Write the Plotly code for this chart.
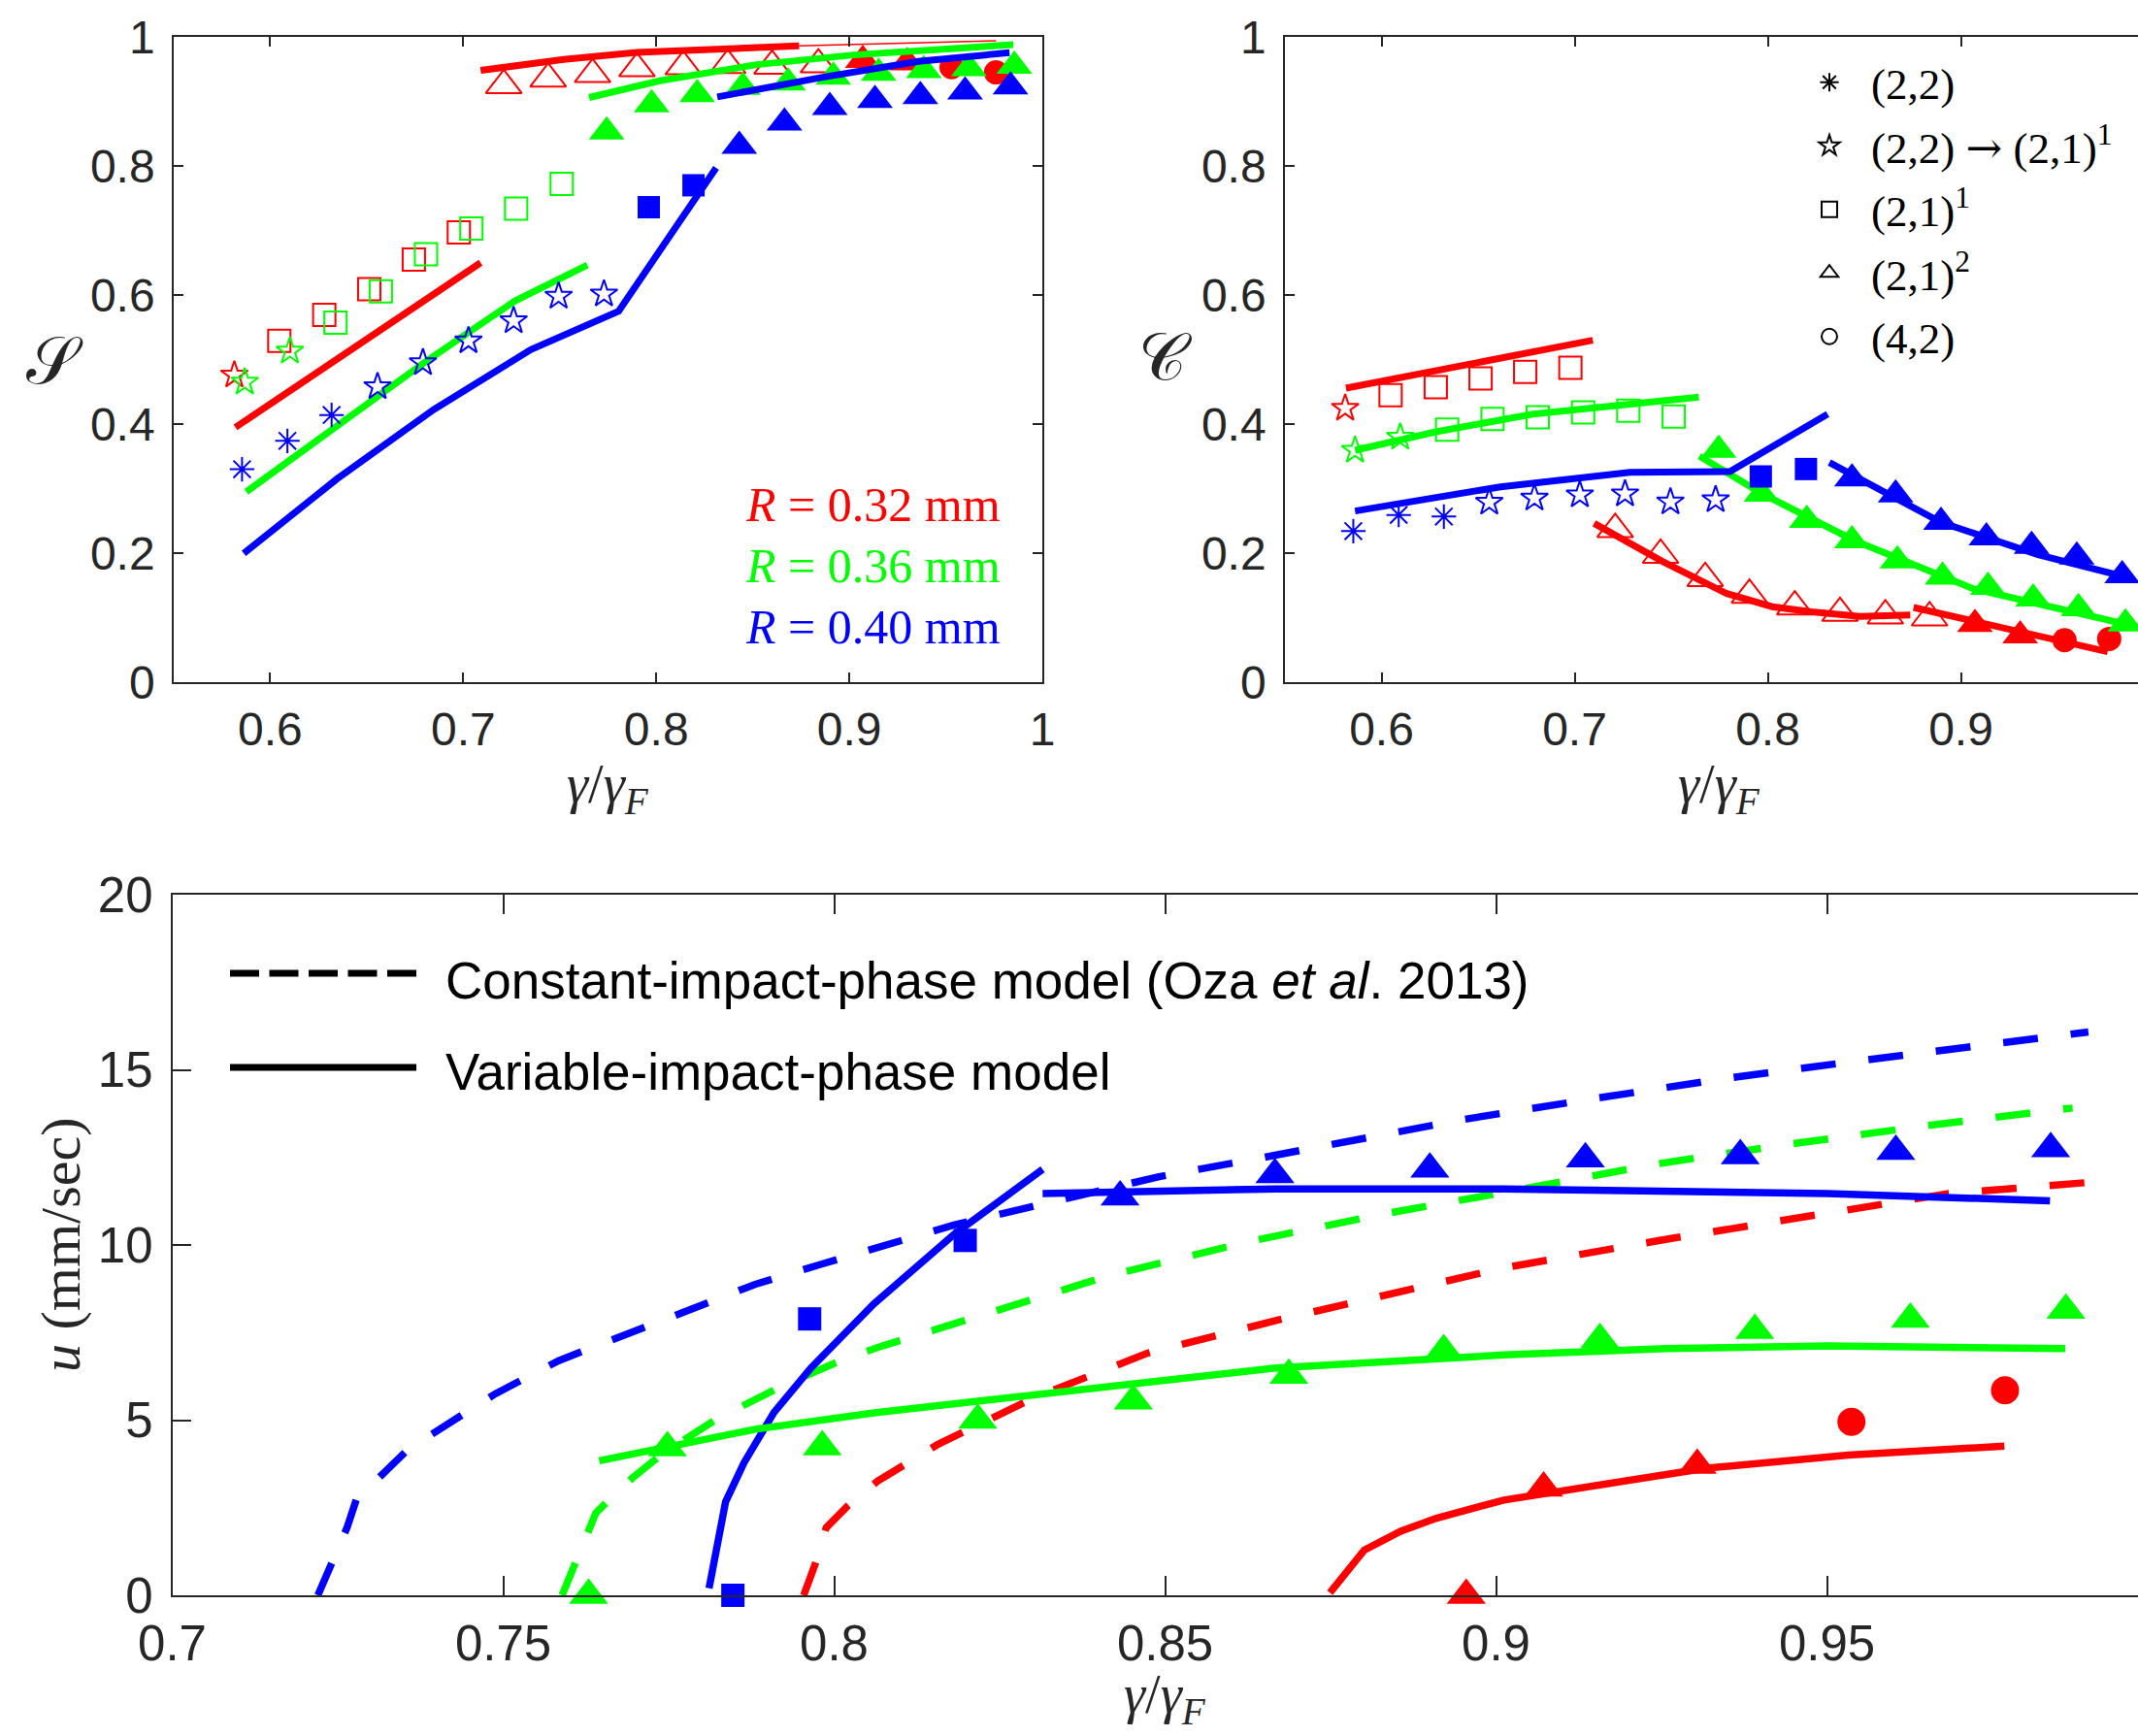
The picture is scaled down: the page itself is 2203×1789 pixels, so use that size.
import plotly.graph_objects as go

W, H = 2203, 1789
RED, GREEN, BLUE = '#ff0000', '#00ff00', '#0000ff'
AXC = '#262626'

# ================= Panel (a): S vs gamma/gamma_F =================
a_red_star_x = [0.5814]
a_red_star_y = [0.476]
a_red_sq_x = [0.6047, 0.6280, 0.6513, 0.6744, 0.6977]
a_red_sq_y = [0.529, 0.569, 0.609, 0.655, 0.697]
a_red_trio_x = [0.721, 0.744, 0.767, 0.790, 0.814, 0.837, 0.860, 0.884]
a_red_trio_y = [0.925, 0.935, 0.942, 0.951, 0.954, 0.956, 0.955, 0.957]
a_red_tri_x = [0.907, 0.930]
a_red_tri_y = [0.964, 0.960]
a_red_circ_x = [0.953, 0.976]
a_red_circ_y = [0.953, 0.945]
a_red_l1_x = [0.582, 0.645, 0.709]
a_red_l1_y = [0.395, 0.522, 0.650]
a_red_l2_x = [0.709, 0.752, 0.790, 0.811, 0.874]
a_red_l2_y = [0.948, 0.965, 0.976, 0.979, 0.986]
a_red_l3_x = [0.874, 0.976]
a_red_l3_y = [0.986, 0.994]

a_grn_star_x = [0.5868, 0.6102]
a_grn_star_y = [0.465, 0.513]
a_grn_sq_x = [0.6338, 0.6573, 0.6807, 0.7042, 0.7274, 0.7510]
a_grn_sq_y = [0.557, 0.6055, 0.663, 0.703, 0.734, 0.772]
a_grn_tri_x = [0.7743, 0.7976, 0.8212, 0.8448, 0.8683, 0.8917, 0.9152, 0.9386, 0.9620, 0.9855]
a_grn_tri_y = [0.853, 0.895, 0.911, 0.922, 0.929, 0.938, 0.944, 0.948, 0.951, 0.955]
a_grn_l1_x = [0.5876, 0.6345, 0.6797, 0.7266, 0.7643]
a_grn_l1_y = [0.295, 0.3975, 0.495, 0.5905, 0.6466]
a_grn_l2_x = [0.7652, 0.8018, 0.852, 0.9023, 0.985]
a_grn_l2_y = [0.906, 0.932, 0.957, 0.972, 0.988]

a_blu_ast_x = [0.5854, 0.6089, 0.6318]
a_blu_ast_y = [0.330, 0.374, 0.414]
a_blu_star_x = [0.6556, 0.6791, 0.7027, 0.7261, 0.7494, 0.7729]
a_blu_star_y = [0.458, 0.495, 0.529, 0.560, 0.598, 0.6015]
a_blu_sq_x = [0.7961, 0.8193]
a_blu_sq_y = [0.736, 0.770]
a_blu_tri_x = [0.843, 0.8664, 0.8899, 0.9133, 0.9368, 0.9600, 0.9835]
a_blu_tri_y = [0.831, 0.867, 0.891, 0.902, 0.908, 0.915, 0.923]
a_blu_l1_x = [0.5863, 0.6345, 0.6848, 0.735, 0.7805, 0.831]
a_blu_l1_y = [0.1995, 0.3148, 0.4226, 0.5153, 0.5750, 0.797]
a_blu_l2_x = [0.8316, 0.8855, 0.9358, 0.983]
a_blu_l2_y = [0.907, 0.937, 0.962, 0.9755]

# ================= Panel (b): C vs gamma/gamma_F =================
b_red_star_x = [0.5812]
b_red_star_y = [0.4245]
b_red_sq_x = [0.6047, 0.6281, 0.6513, 0.6744, 0.6978]
b_red_sq_y = [0.4446, 0.4571, 0.4707, 0.4807, 0.4872]
b_red_trio_x = [0.721, 0.7445, 0.7676, 0.7905, 0.814, 0.8374, 0.8609, 0.8838]
b_red_trio_y = [0.237, 0.197, 0.161, 0.135, 0.117, 0.107, 0.103, 0.100]
b_red_tri_x = [0.9073, 0.9307]
b_red_tri_y = [0.090, 0.072]
b_red_circ_x = [0.9537, 0.9768]
b_red_circ_y = [0.065, 0.067]
b_red_l1_x = [0.5816, 0.7094]
b_red_l1_y = [0.4556, 0.5298]
b_red_l2_x = [0.7101, 0.7453, 0.7788, 0.8023, 0.8227, 0.8478, 0.8738]
b_red_l2_y = [0.2461, 0.1875, 0.1373, 0.117, 0.109, 0.102, 0.104]
b_red_l3_x = [0.8755, 0.9265, 0.976]
b_red_l3_y = [0.1158, 0.0797, 0.0471]

b_grn_star_x = [0.5863, 0.6097]
b_grn_star_y = [0.3594, 0.3795]
b_grn_sq_x = [0.634, 0.6575, 0.6809, 0.7044, 0.7278, 0.7513]
b_grn_sq_y = [0.3914, 0.408, 0.4105, 0.418, 0.4205, 0.4115]
b_grn_tri_x = [0.7746, 0.7967, 0.8202, 0.8436, 0.8671, 0.8905, 0.914, 0.9374, 0.9609, 0.9852]
b_grn_tri_y = [0.3597, 0.2917, 0.251, 0.2194, 0.1883, 0.1633, 0.1472, 0.1292, 0.1141, 0.0906]
b_grn_l1_x = [0.5863, 0.6281, 0.6784, 0.7643]
b_grn_l1_y = [0.3594, 0.388, 0.4155, 0.4416]
b_grn_l2_x = [0.7646, 0.7967, 0.8445, 0.9064, 0.9567, 0.9917]
b_grn_l2_y = [0.3504, 0.2927, 0.22, 0.1449, 0.1098, 0.0857]

b_blu_ast_x = [0.5854, 0.6089, 0.6323]
b_blu_ast_y = [0.2341, 0.2592, 0.2567]
b_blu_star_x = [0.6558, 0.6792, 0.7027, 0.7261, 0.7496, 0.773]
b_blu_star_y = [0.2787, 0.2851, 0.2902, 0.2917, 0.2792, 0.2827]
b_blu_sq_x = [0.7964, 0.8198]
b_blu_sq_y = [0.3188, 0.3303]
b_blu_tri_x = [0.8436, 0.8662, 0.8897, 0.9132, 0.9366, 0.960, 0.9835]
b_blu_tri_y = [0.3153, 0.2905, 0.2481, 0.2241, 0.2108, 0.1943, 0.1654]
b_blu_l1_x = [0.5863, 0.6616, 0.7286, 0.7789, 0.7806, 0.831]
b_blu_l1_y = [0.2652, 0.3027, 0.3253, 0.3263, 0.3265, 0.4155]
b_blu_l2_x = [0.8319, 0.8662, 0.8897, 0.94, 0.9893]
b_blu_l2_y = [0.3403, 0.287, 0.2476, 0.1975, 0.16]

# ================= Panel (c): u vs gamma/gamma_F =================
c_blu_dash_x = [0.7220, 0.7264, 0.7278, 0.7323, 0.7356, 0.7404, 0.7488, 0.7584, 0.7685, 0.7780,
                0.7881, 0.7982, 0.8081, 0.8181, 0.8284, 0.8333, 0.8491, 0.8643, 0.8746, 0.8850,
                0.8953, 0.9135, 0.9348, 0.9562, 0.9764, 0.9895]
c_blu_dash_y = [0.0, 1.93, 2.73, 3.52, 4.16, 4.74, 5.75, 6.70, 7.44, 8.19,
                8.88, 9.46, 9.99, 10.57, 11.03, 11.25, 11.95, 12.48, 12.85, 13.22,
                13.59, 14.14, 14.76, 15.29, 15.76, 16.08]
c_grn_dash_x = [0.7589, 0.7629, 0.7640, 0.7657, 0.7696, 0.7741, 0.7825, 0.7920, 0.8016, 0.8065,
                0.8217, 0.8418, 0.8625, 0.8831, 0.9012, 0.9245, 0.9452, 0.9660, 0.9871]
c_grn_dash_y = [0.0, 1.88, 2.35, 2.67, 3.36, 4.05, 5.06, 5.96, 6.75, 7.07,
                7.97, 9.14, 10.09, 10.89, 11.50, 12.32, 12.90, 13.43, 13.91]
c_red_dash_x = [0.7954, 0.7971, 0.7988, 0.8021, 0.8065, 0.8157, 0.8302, 0.8473, 0.8673, 0.8880,
                0.9012, 0.9269, 0.9477, 0.9684, 0.9898]
c_red_dash_y = [0.0, 0.87, 1.93, 2.56, 3.25, 4.31, 5.64, 6.91, 7.87, 8.77,
                9.35, 10.20, 10.84, 11.47, 11.79]
c_blu_sol1_x = [0.7811, 0.7836, 0.7864, 0.7909, 0.7965, 0.8060, 0.8181, 0.8315]
c_blu_sol1_y = [0.2, 2.67, 3.79, 5.22, 6.49, 8.32, 10.30, 12.16]
c_blu_sol2_x = [0.8315, 0.8436, 0.8667, 0.9012, 0.9257, 0.9501, 0.9837]
c_blu_sol2_y = [11.47, 11.52, 11.60, 11.60, 11.56, 11.47, 11.26]
c_grn_sol_x = [0.7645, 0.7741, 0.7881, 0.8060, 0.8363, 0.8667, 0.9012, 0.9257, 0.9501, 0.9860]
c_grn_sol_y = [3.84, 4.21, 4.74, 5.21, 5.85, 6.49, 6.86, 7.04, 7.12, 7.04]
c_red_sol_x = [0.8749, 0.8801, 0.8856, 0.8910, 0.9012, 0.9135, 0.9318, 0.9532, 0.9768]
c_red_sol_y = [0.07, 1.29, 1.83, 2.20, 2.72, 3.07, 3.63, 4.00, 4.26]

c_blu_sq_x = [0.7847, 0.7963, 0.8198]
c_blu_sq_y = [0.0, 7.89, 10.13]
c_blu_tri_x = [0.8432, 0.8666, 0.8900, 0.9135, 0.9369, 0.9604, 0.9838]
c_blu_tri_y = [11.37, 12.01, 12.17, 12.46, 12.55, 12.67, 12.75]
c_grn_tri_x = [0.7629, 0.7748, 0.7982, 0.8217, 0.8452, 0.8687, 0.8921, 0.9157, 0.9391, 0.9626, 0.9861]
c_grn_tri_y = [0.0, 4.21, 4.24, 5.00, 5.55, 6.28, 6.98, 7.30, 7.56, 7.88, 8.14]
c_red_tri_x = [0.8955, 0.9072, 0.9304]
c_red_tri_y = [0.0, 3.06, 3.71]
c_red_circ_x = [0.9537, 0.9769]
c_red_circ_y = [4.95, 5.85]

# Text
radius_labels = ['<i>R</i> = 0.32 mm', '<i>R</i> = 0.36 mm', '<i>R</i> = 0.40 mm']
ARROW = '<span style="font-family:DejaVu Serif">→</span>'
mode_labels = ['(2,2)', '(2,2) ' + ARROW + ' (2,1)<sup>1</sup>', '(2,1)<sup>1</sup>',
               '(2,1)<sup>2</sup>', '(4,2)']
model_labels = ['Constant-impact-phase model (Oza <i>et al</i>. 2013)', 'Variable-impact-phase model']

fig = go.Figure()


def line(x, y, color, xa, ya, width=6, dash=None):
    fig.add_trace(go.Scatter(x=x, y=y, mode='lines', xaxis=xa, yaxis=ya,
                             line=dict(color=color, width=width, dash=dash),
                             showlegend=False, hoverinfo='skip'))


def pts(x, y, sym, color, size, xa, ya, open_=False, lw=2):
    if open_:
        mk = dict(symbol=sym, size=size, color=color, line=dict(color=color, width=lw))
    else:
        mk = dict(symbol=sym, size=size, color=color, line=dict(width=0))
    fig.add_trace(go.Scatter(x=x, y=y, mode='markers', xaxis=xa, yaxis=ya, marker=mk,
                             showlegend=False, cliponaxis=False, hoverinfo='skip'))


TRI, TRI_C = 32, 35
SQ, SQ_C = 23, 24
CIR, CIR_C = 25, 29
STAR, AST = 21, 21
LW_TOP = 7

# ---- panel a ----
xa, ya = 'x', 'y'
line(a_red_l1_x, a_red_l1_y, RED, xa, ya, LW_TOP)
line(a_red_l2_x, a_red_l2_y, RED, xa, ya, LW_TOP)
line(a_red_l3_x, a_red_l3_y, RED, xa, ya, 1.5)
pts(a_red_star_x, a_red_star_y, 'star-open', RED, STAR, xa, ya, True)
pts(a_red_sq_x, a_red_sq_y, 'square-open', RED, SQ, xa, ya, True)
pts(a_red_trio_x, a_red_trio_y, 'triangle-up-open', RED, TRI, xa, ya, True)
pts(a_red_tri_x, a_red_tri_y, 'triangle-up', RED, TRI, xa, ya)
pts(a_red_circ_x, a_red_circ_y, 'circle', RED, CIR, xa, ya)
line(a_grn_l1_x, a_grn_l1_y, GREEN, xa, ya, LW_TOP)
line(a_grn_l2_x, a_grn_l2_y, GREEN, xa, ya, LW_TOP)
pts(a_grn_star_x, a_grn_star_y, 'star-open', GREEN, STAR, xa, ya, True)
pts(a_grn_sq_x, a_grn_sq_y, 'square-open', GREEN, SQ, xa, ya, True)
pts(a_grn_tri_x, a_grn_tri_y, 'triangle-up', GREEN, TRI, xa, ya)
line(a_blu_l1_x, a_blu_l1_y, BLUE, xa, ya, LW_TOP)
line(a_blu_l2_x, a_blu_l2_y, BLUE, xa, ya, LW_TOP)
pts(a_blu_ast_x, a_blu_ast_y, 'asterisk-open', BLUE, AST, xa, ya, True)
pts(a_blu_star_x, a_blu_star_y, 'star-open', BLUE, STAR, xa, ya, True)
pts(a_blu_sq_x, a_blu_sq_y, 'square', BLUE, SQ, xa, ya)
pts(a_blu_tri_x, a_blu_tri_y, 'triangle-up', BLUE, TRI, xa, ya)

# ---- panel b ----
xa, ya = 'x2', 'y2'
line(b_red_l1_x, b_red_l1_y, RED, xa, ya, LW_TOP)
line(b_red_l2_x, b_red_l2_y, RED, xa, ya, LW_TOP)
line(b_red_l3_x, b_red_l3_y, RED, xa, ya, LW_TOP)
pts(b_red_star_x, b_red_star_y, 'star-open', RED, STAR, xa, ya, True)
pts(b_red_sq_x, b_red_sq_y, 'square-open', RED, SQ, xa, ya, True)
pts(b_red_trio_x, b_red_trio_y, 'triangle-up-open', RED, TRI, xa, ya, True)
pts(b_red_tri_x, b_red_tri_y, 'triangle-up', RED, TRI, xa, ya)
pts(b_red_circ_x, b_red_circ_y, 'circle', RED, CIR, xa, ya)
line(b_grn_l1_x, b_grn_l1_y, GREEN, xa, ya, LW_TOP)
line(b_grn_l2_x, b_grn_l2_y, GREEN, xa, ya, LW_TOP)
pts(b_grn_star_x, b_grn_star_y, 'star-open', GREEN, STAR, xa, ya, True)
pts(b_grn_sq_x, b_grn_sq_y, 'square-open', GREEN, SQ, xa, ya, True)
pts(b_grn_tri_x, b_grn_tri_y, 'triangle-up', GREEN, TRI, xa, ya)
line(b_blu_l1_x, b_blu_l1_y, BLUE, xa, ya, LW_TOP)
line(b_blu_l2_x, b_blu_l2_y, BLUE, xa, ya, LW_TOP)
pts(b_blu_ast_x, b_blu_ast_y, 'asterisk-open', BLUE, AST, xa, ya, True)
pts(b_blu_star_x, b_blu_star_y, 'star-open', BLUE, STAR, xa, ya, True)
pts(b_blu_sq_x, b_blu_sq_y, 'square', BLUE, SQ, xa, ya)
pts(b_blu_tri_x, b_blu_tri_y, 'triangle-up', BLUE, TRI, xa, ya)

# ---- panel c ----
xa, ya = 'x3', 'y3'
DASH = '36px,34px'
LW_C = 7.5
line(c_blu_dash_x, c_blu_dash_y, BLUE, xa, ya, LW_C, DASH)
line(c_grn_dash_x, c_grn_dash_y, GREEN, xa, ya, LW_C, DASH)
line(c_red_dash_x, c_red_dash_y, RED, xa, ya, LW_C, DASH)
line(c_red_sol_x, c_red_sol_y, RED, xa, ya, LW_C)
line(c_blu_sol1_x, c_blu_sol1_y, BLUE, xa, ya, LW_C)
line(c_blu_sol2_x, c_blu_sol2_y, BLUE, xa, ya, LW_C)
line(c_grn_sol_x, c_grn_sol_y, GREEN, xa, ya, LW_C)
pts(c_red_tri_x, c_red_tri_y, 'triangle-up', RED, TRI_C, xa, ya)
pts(c_red_circ_x, c_red_circ_y, 'circle', RED, CIR_C, xa, ya)
pts(c_grn_tri_x, c_grn_tri_y, 'triangle-up', GREEN, TRI_C, xa, ya)
pts(c_blu_sq_x, c_blu_sq_y, 'square', BLUE, SQ_C, xa, ya)
pts(c_blu_tri_x, c_blu_tri_y, 'triangle-up', BLUE, TRI_C, xa, ya)

# ---- symbol key (legend) ----
key_symbols = ['asterisk-open', 'star-open', 'square-open', 'triangle-up-open', 'circle-open']
for i, (sym, name) in enumerate(zip(key_symbols, mode_labels)):
    fig.add_trace(go.Scatter(x=[None], y=[None], mode='markers', xaxis='x2', yaxis='y2',
                             marker=dict(symbol=sym, size=16, color='black',
                                         line=dict(color='black', width=2)),
                             name=name, legendgroup='g%d' % i, showlegend=True))

tickfont_top = dict(family='Liberation Sans', size=48, color=AXC)
tickfont_bot = dict(family='Liberation Sans', size=51, color=AXC)


def axis(domain, rng, tickvals, ticktext, anchor, mirror, tf, ticklen, standoff):
    return dict(domain=domain, range=rng, tickvals=tickvals, ticktext=ticktext, anchor=anchor,
                showline=True, linecolor=AXC, linewidth=1.5, mirror=mirror,
                ticks='inside', ticklen=ticklen, tickwidth=1.5, tickcolor=AXC,
                showgrid=False, zeroline=False, tickfont=tf, ticklabelstandoff=standoff,
                automargin=False, fixedrange=True)


top_dom = [1 - 703 / H, 1 - 38 / H]
bot_dom = [1 - 1644 / H, 1 - 922 / H]
xt_top = [0.6, 0.7, 0.8, 0.9, 1.0]
xt_top_txt = ['0.6', '0.7', '0.8', '0.9', '1']
yt_top = [0, 0.2, 0.4, 0.6, 0.8, 1.0]
yt_top_txt = ['0', '0.2', '0.4', '0.6', '0.8', '1']
xt_bot = [0.7, 0.75, 0.8, 0.85, 0.9, 0.95, 1.0]
xt_bot_txt = ['0.7', '0.75', '0.8', '0.85', '0.9', '0.95', '1']
yt_bot = [0, 5, 10, 15, 20]
yt_bot_txt = ['0', '5', '10', '15', '20']

fig.update_layout(
    template='none',
    width=W, height=H, autosize=False,
    margin=dict(l=0, r=0, t=0, b=0, pad=0, autoexpand=False),
    paper_bgcolor='white', plot_bgcolor='white',
    xaxis=axis([179 / W, 1074 / W], [0.55, 1.0], xt_top, xt_top_txt, 'y', 'ticks', tickfont_top, 10, 6),
    yaxis=axis(top_dom, [0, 1], yt_top, yt_top_txt, 'x', 'ticks', tickfont_top, 10, 8),
    xaxis2=axis([1324 / W, 1.0], [0.55, 0.55 + 879 / 1990], xt_top, xt_top_txt, 'y2', 'ticks', tickfont_top, 10, 6),
    yaxis2=axis(top_dom, [0, 1], yt_top, yt_top_txt, 'x2', False, tickfont_top, 10, 8),
    xaxis3=axis([177.5 / W, 1.0], [0.7, 0.7 + 2025.5 / 6820], xt_bot, xt_bot_txt, 'y3', 'ticks', tickfont_bot, 20, 4),
    yaxis3=axis(bot_dom, [0, 20], yt_bot, yt_bot_txt, 'x3', False, tickfont_bot, 20, 8),
    legend=dict(x=1842 / W, y=1 - 49 / H, xanchor='left', yanchor='top',
                font=dict(family='Liberation Serif', size=45, color='black'),
                bgcolor='rgba(0,0,0,0)', borderwidth=0, itemwidth=76,
                tracegroupgap=4, itemclick=False),
)

ann = []
SERIF = 'Liberation Serif'


def text(x, y, s, size, color='black', family=SERIF, xanchor='center', yanchor='middle', angle=0):
    ann.append(dict(x=x / W, y=1 - y / H, xref='paper', yref='paper', text=s, showarrow=False,
                    xanchor=xanchor, yanchor=yanchor, textangle=angle,
                    font=dict(family=family, size=size, color=color)))


# axis titles
gam = '<i>γ</i>/<i>γ</i><sub><i>F</i></sub>'
text(626, 812, gam, 56, AXC)
text(1771, 812, gam, 56, AXC)
text(1200, 1750, gam, 56, AXC)
text(56, 372, '𝒮', 68, AXC)
text(1201, 368, '𝒞', 68, AXC)
text(62, 1283, '<i>u</i> (mm/sec)', 58, AXC, angle=-90)

# radius labels
for lab, col, yy in zip(radius_labels, [RED, GREEN, BLUE], [520, 583, 646]):
    text(1033, yy, lab, 50, col, xanchor='right')

# line-style key for panel c
text(457, 1010, model_labels[0], 53, 'black', family='Liberation Sans', xanchor='left')
text(457, 1104, model_labels[1], 53, 'black', family='Liberation Sans', xanchor='left')
fig.update_layout(annotations=ann)
fig.add_shape(type='line', xref='paper', yref='paper', x0=237 / W, x1=429 / W,
              y0=1 - 1003 / H, y1=1 - 1003 / H, line=dict(color='black', width=7, dash='30px,10.5px'))
fig.add_shape(type='line', xref='paper', yref='paper', x0=237 / W, x1=429 / W,
              y0=1 - 1100 / H, y1=1 - 1100 / H, line=dict(color='black', width=7))

fig.write_html('out.html', config={'displayModeBar': False},
               post_script="document.body.style.margin='0';document.body.style.overflow='hidden';")
